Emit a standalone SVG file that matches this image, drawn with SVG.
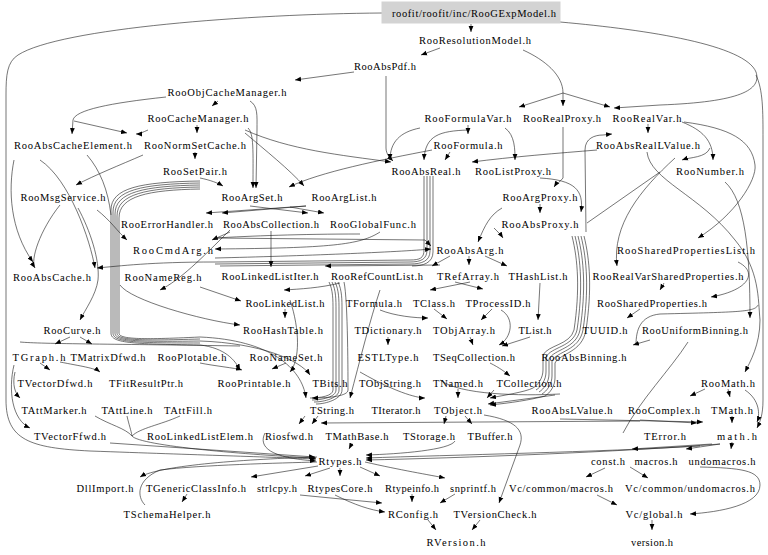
<svg xmlns="http://www.w3.org/2000/svg" width="768" height="555" viewBox="0 0 768 555">
<style>
.n text{font-family:"Liberation Serif","DejaVu Serif","Times New Roman",serif;font-size:10.5px;fill:#000;text-anchor:middle}
.e path{fill:none;stroke:#1a1a1a;stroke-width:0.6}
.e path.a{marker-end:url(#ah)}
</style>
<defs>
<marker id="ah" viewBox="0 0 10 10" refX="10" refY="5" markerWidth="6" markerHeight="6" markerUnits="userSpaceOnUse" orient="auto"><path d="M0,1 L10,5 L0,9 z" fill="#000"/></marker>
</defs>
<rect width="768" height="555" fill="#fff"/>
<g class="e" id="edges">
<path class="a" d="M471,24 L471,32"/>
<path class="a" d="M382,13 C250,14 60,28 18,55 C7,62 6,75 6,95 L6,400 C6,440 30,448 90,451 C200,455 270,457 316,459"/>
<path class="a" d="M560,22 C650,30 745,45 756,72 C762,90 740,102 660,105 L614,108"/>
<path class="a" d="M756,75 C763,90 763,110 763,140 L763,400 C763,415 760,422 757,428"/>
<path class="a" d="M440,48 L421,55"/>
<path d="M523,50 C545,60 563,75 563,93"/>
<path class="a" d="M563,93 L519,107"/>
<path class="a" d="M563,93 L563,106"/>
<path class="a" d="M563,93 L610,107"/>
<path class="a" d="M354,72 L295,80"/>
<path class="a" d="M386,76 L386,148 C386,154 390,158 393,161"/>
<path class="a" d="M218,101 L212,106"/>
<path class="a" d="M166,97 C110,103 75,110 73,120 L72,134"/>
<path class="a" d="M250,101 C258,106 257,115 257,130 L256,188"/>
<path class="a" d="M197,125 L197,133"/>
<path class="a" d="M74,121 L127,133"/>
<path class="a" d="M148,130 C143,132 140,134 136,134"/>
<path class="a" d="M195,152 L195,159"/>
<path class="a" d="M248,128 C254,134 253,150 253,188"/>
<path class="a" d="M245,130 C290,150 340,155 391,162"/>
<path class="a" d="M245,133 C265,150 290,170 304,186"/>
<path class="a" d="M200,178 C210,180 218,183 223,186"/>
<path class="a" d="M468,125 L468,134"/>
<path class="a" d="M420,128 C400,132 390,142 390,160"/>
<path class="a" d="M505,128 C515,135 515,150 515,160"/>
<path class="a" d="M468,130 C440,131 425,135 424,160"/>
<path class="a" d="M450,152 L445,160"/>
<path class="a" d="M432,150 C380,160 320,172 289,187"/>
<path class="a" d="M597,150 C560,153 510,157 472,162"/>
<path class="a" d="M648,124 L648,133"/>
<path class="a" d="M682,122 C702,130 713,140 713,160"/>
<path class="a" d="M710,148 C706,158 690,157 682,160"/>
<path class="a" d="M684,122 C730,128 752,140 755,165 C757,180 735,215 698,238"/>
<path class="a" d="M675,158 C640,190 612,225 617,266"/>
<path class="a" d="M725,182 C745,200 750,250 750,318"/>
<path class="a" d="M647,152 C650,180 700,195 735,240 C760,270 758,300 760,320 C760,345 750,362 745,372"/>
<path class="a" d="M738,262 C758,272 750,290 711,297"/>
<path class="a" d="M664,283 L660,290"/>
<path class="a" d="M640,309 L627,318"/>
<path class="a" d="M650,340 L633,345"/>
<path d="M758,305 C755,312 740,312 660,314 C640,316 636,330 636,345"/>
<path d="M688,342 C670,370 640,400 623,433"/>
<path d="M587,223 L660,172"/>
<path d="M586,232 L585,150 C585,138 595,135 603,135"/>
<path class="a" d="M603,135 L612,134"/>
<path class="a" d="M563,127 L563,178 C560,182 556,184 554,187"/>
<path class="a" d="M540,178 C575,180 584,190 581,212"/>
<path class="a" d="M540,204 L540,213"/>
<path class="a" d="M502,208 C490,215 485,225 478,242"/>
<path class="a" d="M494,228 C498,232 501,235 503,238"/>
<path class="a" d="M306,206 L206,213"/>
<path class="a" d="M306,206 L222,213"/>
<path class="a" d="M250,206 L308,213"/>
<path class="a" d="M290,207 L324,213"/>
<path class="a" d="M271,231 L271,267"/>
<path class="a" d="M230,232 L212,240"/>
<path class="a" d="M215,238 L425,240 L431,246"/>
<path class="a" d="M215,258 C300,256 400,252 431,249"/>
<path class="a" d="M450,256 L432,266"/>
<path class="a" d="M469,256 L469,265"/>
<path class="a" d="M485,256 L507,266"/>
<path class="a" d="M440,265 L325,266"/>
<path class="a" d="M340,283 C320,288 300,289 284,290"/>
<path class="a" d="M285,309 L285,318"/>
<path class="a" d="M200,287 L241,301"/>
<path class="a" d="M120,285 C130,300 200,320 240,325"/>
<path class="a" d="M455,282 L483,289"/>
<path class="a" d="M470,282 L430,290"/>
<path class="a" d="M540,283 L538,320"/>
<path class="a" d="M434,309 L447,319"/>
<path class="a" d="M492,309 L481,320"/>
<path class="a" d="M380,310 C395,316 415,318 428,318"/>
<path class="a" d="M388,337 L388,345"/>
<path class="a" d="M470,337 L473,345"/>
<path class="a" d="M530,337 L502,346"/>
<path class="a" d="M501,310 C515,318 512,338 499,345"/>
<path class="a" d="M490,363 C500,368 505,372 510,376"/>
<path class="a" d="M458,389 L458,398"/>
<path class="a" d="M494,390 L487,398"/>
<path class="a" d="M555,395 L488,404"/>
<path class="a" d="M484,415 C515,420 525,430 520,445 L499,503"/>
<path class="a" d="M446,416 L444,424"/>
<path class="a" d="M465,416 L472,424"/>
<path class="a" d="M305,416 L299,424"/>
<path class="a" d="M318,416 L312,424"/>
<path class="a" d="M640,421 L321,423"/>
<path class="a" d="M640,420 L697,423"/>
<path class="a" d="M560,419 L703,422"/>
<path class="a" d="M352,443 L349,449"/>
<path class="a" d="M700,446 C600,452 450,455 366,458"/>
<path class="a" d="M720,444 C620,452 460,458 366,460"/>
<path class="a" d="M455,441 C450,450 400,454 366,455"/>
<path class="a" d="M265,433 C258,447 270,458 316,461"/>
<path class="a" d="M110,443 L315,457"/>
<path d="M95,416 C110,425 125,428 132,436"/>
<path d="M127,416 C129,425 131,430 132,436"/>
<path d="M180,416 C160,425 140,428 132,436"/>
<path class="a" d="M132,436 C140,446 250,455 316,458"/>
<path class="a" d="M14,365 C8,390 12,420 30,428"/>
<path class="a" d="M40,363 L50,370"/>
<path class="a" d="M15,372 C12,385 15,393 20,398"/>
<path class="a" d="M60,362 C80,366 95,368 100,372"/>
<path class="a" d="M70,337 L55,344"/>
<path class="a" d="M80,337 L92,344"/>
<path d="M20,342 C40,344 120,344 240,346"/>
<path class="a" d="M200,363 C215,366 235,368 242,370"/>
<path class="a" d="M286,363 L272,369"/>
<path class="a" d="M705,389 L690,396"/>
<path class="a" d="M728,389 L730,397"/>
<path class="a" d="M745,390 C760,400 760,415 757,422"/>
<path class="a" d="M732,416 L732,423"/>
<path class="a" d="M712,444 L632,449"/>
<path class="a" d="M720,444 L686,449"/>
<path class="a" d="M732,442 L731,449"/>
<path class="a" d="M605,468 L586,477"/>
<path class="a" d="M630,467 L648,478"/>
<path class="a" d="M700,467 C740,468 760,470 760,485 C760,505 720,512 690,514"/>
<path class="a" d="M597,495 L617,505"/>
<path class="a" d="M652,520 L652,530"/>
<path class="a" d="M317,457 C250,459 160,465 140,477"/>
<path class="a" d="M318,466 L251,477"/>
<path class="a" d="M330,468 L305,476"/>
<path class="a" d="M340,468 L340,476"/>
<path class="a" d="M360,467 L380,476"/>
<path class="a" d="M365,462 C400,470 430,475 445,478"/>
<path class="a" d="M187,494 L182,502"/>
<path d="M145,505 C137,497 136,480 160,470 C200,465 280,463 317,462"/>
<path class="a" d="M300,495 L382,503"/>
<path class="a" d="M335,495 C355,505 370,510 385,512"/>
<path class="a" d="M412,494 L412,502"/>
<path class="a" d="M455,494 L440,503"/>
<path class="a" d="M428,520 L436,530"/>
<path class="a" d="M480,520 L472,530"/>
<path d="M200,181 C140,182 111,188 111,210 L111,333 C111,343 130,344 200,345"/>
<path d="M200,183 C142,184 113,190 113,212 L113,333 C113,342 132,343 200,343"/>
<path d="M200,185 C144,186 115,192 115,214 L115,333 C115,341 134,342 200,341"/>
<path d="M200,187 C146,188 117,194 117,216 L117,333 C117,340 136,341 200,339"/>
<path d="M200,189 C148,190 119,196 119,218 L119,333 C119,339 138,340 200,337"/>
<path class="a" d="M200,345 C225,348 235,360 240,370"/>
<path class="a" d="M200,341 C260,343 300,360 310,375"/>
<path class="a" d="M200,337 C270,340 302,368 306,398"/>
<path d="M87,155 C100,170 108,190 111,215"/>
<path class="a" d="M143,155 C120,165 95,175 76,185"/>
<path class="a" d="M14,160 C8,190 10,230 33,262"/>
<path class="a" d="M78,208 C90,230 100,260 98,280 C96,295 85,310 80,320"/>
<path class="a" d="M97,210 C110,220 118,232 127,240"/>
<path d="M424,176 L424,250 C424,258 420,260 410,260 L215,262"/>
<path d="M427,176 L427,250 C427,259 421,262 410,262 L215,264"/>
<path d="M430,176 L430,251 C430,261 422,264 410,264 L220,266"/>
<path d="M433,176 L433,252 C433,263 423,266 412,266"/>
<path class="a" d="M215,262 C150,262 120,266 97,268"/>
<path class="a" d="M380,232 C360,245 330,248 215,249"/>
<path d="M329,282 C333,290 333,300 333,310 L333,390 C333,396 320,398 310,398"/>
<path d="M332,282 C336,290 336,300 336,310 L336,390 C336,397 322,400 312,400"/>
<path d="M335,282 C339,290 339,300 339,310 L339,390 C339,398 324,402 314,402"/>
<path d="M338,282 C342,290 342,300 342,310 L342,390 C342,399 326,404 316,404"/>
<path class="a" d="M344,282 C348,300 348,380 348,390 C348,396 330,398 312,398"/>
<path d="M572,236 C578,260 580,290 574,330 C570,345 548,345 543,355 L543,370 C543,378 538,385 533,388"/>
<path d="M575,236 C581,260 583,290 577,330 C573,347 551,347 546,357 L546,372 C546,380 541,387 536,390"/>
<path d="M578,236 C584,260 586,290 580,330 C576,349 554,349 549,359 L549,374 C549,382 544,389 539,392"/>
<path d="M581,236 C587,260 589,290 583,330 C579,351 557,351 552,361 L552,376 C552,384 547,391 542,394"/>
<path d="M584,236 C590,260 592,290 586,330 C582,353 560,353 555,363 L555,378 C555,386 550,393 545,396"/>
<path class="a" d="M533,388 C525,392 505,395 490,398"/>
<path class="a" d="M545,396 C530,400 510,403 490,405"/>
<path d="M440,380 C460,395 520,396 560,394"/>
<path d="M215,238 C250,236 300,234 360,234"/>
<path class="a" d="M290,300 C300,330 300,360 290,372"/>
<path class="a" d="M380,290 C370,320 360,360 350,398"/>
<path class="a" d="M360,372 C400,395 420,398 425,398"/>
<path class="a" d="M40,160 C70,180 90,240 95,268"/>
<path class="a" d="M60,205 C40,230 30,260 35,268"/>
<path class="a" d="M230,230 C200,260 180,280 160,290"/>
</g>
<g class="n">
<g id="n0"><rect x="382" y="2" width="178" height="21" fill="#d3d3d3" stroke="#d3d3d3"/><text x="474" y="16.5" textLength="164" lengthAdjust="spacing">roofit/roofit/inc/RooGExpModel.h</text></g>
<g id="n1"><text x="475" y="43.5" textLength="112" lengthAdjust="spacing">RooResolutionModel.h</text></g>
<g id="n2"><text x="385" y="69.5" textLength="62" lengthAdjust="spacing">RooAbsPdf.h</text></g>
<g id="n3"><text x="227" y="95.5" textLength="119" lengthAdjust="spacing">RooObjCacheManager.h</text></g>
<g id="n4"><text x="198" y="121.5" textLength="101" lengthAdjust="spacing">RooCacheManager.h</text></g>
<g id="n5"><text x="468" y="121.5" textLength="87" lengthAdjust="spacing">RooFormulaVar.h</text></g>
<g id="n6"><text x="562" y="121.5" textLength="78" lengthAdjust="spacing">RooRealProxy.h</text></g>
<g id="n7"><text x="647" y="121.5" textLength="69" lengthAdjust="spacing">RooRealVar.h</text></g>
<g id="n8"><text x="73" y="148.5" textLength="118" lengthAdjust="spacing">RooAbsCacheElement.h</text></g>
<g id="n9"><text x="195" y="148.5" textLength="102" lengthAdjust="spacing">RooNormSetCache.h</text></g>
<g id="n10"><text x="468" y="148.5" textLength="69" lengthAdjust="spacing">RooFormula.h</text></g>
<g id="n11"><text x="648" y="148.5" textLength="104" lengthAdjust="spacing">RooAbsRealLValue.h</text></g>
<g id="n12"><text x="195" y="174.5" textLength="64" lengthAdjust="spacing">RooSetPair.h</text></g>
<g id="n13"><text x="426" y="174.5" textLength="69" lengthAdjust="spacing">RooAbsReal.h</text></g>
<g id="n14"><text x="513" y="174.5" textLength="76" lengthAdjust="spacing">RooListProxy.h</text></g>
<g id="n15"><text x="710" y="174.5" textLength="68" lengthAdjust="spacing">RooNumber.h</text></g>
<g id="n16"><text x="63" y="200.5" textLength="85" lengthAdjust="spacing">RooMsgService.h</text></g>
<g id="n17"><text x="252" y="200.5" textLength="61" lengthAdjust="spacing">RooArgSet.h</text></g>
<g id="n18"><text x="344" y="200.5" textLength="65" lengthAdjust="spacing">RooArgList.h</text></g>
<g id="n19"><text x="540" y="200.5" textLength="75" lengthAdjust="spacing">RooArgProxy.h</text></g>
<g id="n20"><text x="167" y="227.5" textLength="92" lengthAdjust="spacing">RooErrorHandler.h</text></g>
<g id="n21"><text x="271" y="227.5" textLength="96" lengthAdjust="spacing">RooAbsCollection.h</text></g>
<g id="n22"><text x="373" y="227.5" textLength="86" lengthAdjust="spacing">RooGlobalFunc.h</text></g>
<g id="n23"><text x="540" y="227.5" textLength="77" lengthAdjust="spacing">RooAbsProxy.h</text></g>
<g id="n24"><text x="173" y="253.5" textLength="80" lengthAdjust="spacing">RooCmdArg.h</text></g>
<g id="n25"><text x="470" y="253.5" textLength="67" lengthAdjust="spacing">RooAbsArg.h</text></g>
<g id="n26"><text x="686" y="253.5" textLength="138" lengthAdjust="spacing">RooSharedPropertiesList.h</text></g>
<g id="n27"><text x="52" y="280.5" textLength="78" lengthAdjust="spacing">RooAbsCache.h</text></g>
<g id="n28"><text x="163" y="280.5" textLength="77" lengthAdjust="spacing">RooNameReg.h</text></g>
<g id="n29"><text x="270" y="279.5" textLength="97" lengthAdjust="spacing">RooLinkedListIter.h</text></g>
<g id="n30"><text x="377" y="279.5" textLength="92" lengthAdjust="spacing">RooRefCountList.h</text></g>
<g id="n31"><text x="468" y="279.5" textLength="62" lengthAdjust="spacing">TRefArray.h</text></g>
<g id="n32"><text x="538" y="279.5" textLength="59" lengthAdjust="spacing">THashList.h</text></g>
<g id="n33"><text x="668" y="279.5" textLength="151" lengthAdjust="spacing">RooRealVarSharedProperties.h</text></g>
<g id="n34"><text x="285" y="306.5" textLength="79" lengthAdjust="spacing">RooLinkedList.h</text></g>
<g id="n35"><text x="374" y="306.5" textLength="56" lengthAdjust="spacing">TFormula.h</text></g>
<g id="n36"><text x="434" y="306.5" textLength="42" lengthAdjust="spacing">TClass.h</text></g>
<g id="n37"><text x="498" y="306.5" textLength="65" lengthAdjust="spacing">TProcessID.h</text></g>
<g id="n38"><text x="652" y="306.5" textLength="110" lengthAdjust="spacing">RooSharedProperties.h</text></g>
<g id="n39"><text x="72" y="333.5" textLength="57" lengthAdjust="spacing">RooCurve.h</text></g>
<g id="n40"><text x="283" y="333.5" textLength="80" lengthAdjust="spacing">RooHashTable.h</text></g>
<g id="n41"><text x="388" y="333.5" textLength="67" lengthAdjust="spacing">TDictionary.h</text></g>
<g id="n42"><text x="464" y="333.5" textLength="62" lengthAdjust="spacing">TObjArray.h</text></g>
<g id="n43"><text x="535" y="333.5" textLength="33" lengthAdjust="spacing">TList.h</text></g>
<g id="n44"><text x="605" y="333.5" textLength="45" lengthAdjust="spacing">TUUID.h</text></g>
<g id="n45"><text x="695" y="333.5" textLength="106" lengthAdjust="spacing">RooUniformBinning.h</text></g>
<g id="n46"><text x="39" y="360.5" textLength="53" lengthAdjust="spacing">TGraph.h</text></g>
<g id="n47"><text x="108" y="360.5" textLength="75" lengthAdjust="spacing">TMatrixDfwd.h</text></g>
<g id="n48"><text x="192" y="360.5" textLength="69" lengthAdjust="spacing">RooPlotable.h</text></g>
<g id="n49"><text x="286" y="360.5" textLength="73" lengthAdjust="spacing">RooNameSet.h</text></g>
<g id="n50"><text x="388" y="360.5" textLength="61" lengthAdjust="spacing">ESTLType.h</text></g>
<g id="n51"><text x="474" y="360.5" textLength="82" lengthAdjust="spacing">TSeqCollection.h</text></g>
<g id="n52"><text x="584" y="360.5" textLength="85" lengthAdjust="spacing">RooAbsBinning.h</text></g>
<g id="n53"><text x="55" y="386.5" textLength="75" lengthAdjust="spacing">TVectorDfwd.h</text></g>
<g id="n54"><text x="146" y="386.5" textLength="74" lengthAdjust="spacing">TFitResultPtr.h</text></g>
<g id="n55"><text x="254" y="386.5" textLength="73" lengthAdjust="spacing">RooPrintable.h</text></g>
<g id="n56"><text x="330" y="386.5" textLength="35" lengthAdjust="spacing">TBits.h</text></g>
<g id="n57"><text x="390" y="386.5" textLength="62" lengthAdjust="spacing">TObjString.h</text></g>
<g id="n58"><text x="458" y="386.5" textLength="50" lengthAdjust="spacing">TNamed.h</text></g>
<g id="n59"><text x="529" y="386.5" textLength="65" lengthAdjust="spacing">TCollection.h</text></g>
<g id="n60"><text x="728" y="386.5" textLength="54" lengthAdjust="spacing">RooMath.h</text></g>
<g id="n61"><text x="54" y="413.5" textLength="65" lengthAdjust="spacing">TAttMarker.h</text></g>
<g id="n62"><text x="127" y="413.5" textLength="51" lengthAdjust="spacing">TAttLine.h</text></g>
<g id="n63"><text x="188" y="413.5" textLength="48" lengthAdjust="spacing">TAttFill.h</text></g>
<g id="n64"><text x="332" y="413.5" textLength="44" lengthAdjust="spacing">TString.h</text></g>
<g id="n65"><text x="396" y="413.5" textLength="49" lengthAdjust="spacing">TIterator.h</text></g>
<g id="n66"><text x="458" y="413.5" textLength="48" lengthAdjust="spacing">TObject.h</text></g>
<g id="n67"><text x="572" y="413.5" textLength="81" lengthAdjust="spacing">RooAbsLValue.h</text></g>
<g id="n68"><text x="664" y="413.5" textLength="72" lengthAdjust="spacing">RooComplex.h</text></g>
<g id="n69"><text x="732" y="413.5" textLength="42" lengthAdjust="spacing">TMath.h</text></g>
<g id="n70"><text x="70" y="439.5" textLength="72" lengthAdjust="spacing">TVectorFfwd.h</text></g>
<g id="n71"><text x="200" y="439.5" textLength="106" lengthAdjust="spacing">RooLinkedListElem.h</text></g>
<g id="n72"><text x="289" y="439.5" textLength="48" lengthAdjust="spacing">Riosfwd.h</text></g>
<g id="n73"><text x="357" y="439.5" textLength="63" lengthAdjust="spacing">TMathBase.h</text></g>
<g id="n74"><text x="429" y="439.5" textLength="52" lengthAdjust="spacing">TStorage.h</text></g>
<g id="n75"><text x="490" y="439.5" textLength="45" lengthAdjust="spacing">TBuffer.h</text></g>
<g id="n76"><text x="665" y="439.5" textLength="42" lengthAdjust="spacing">TError.h</text></g>
<g id="n77"><text x="737" y="439.5" textLength="40" lengthAdjust="spacing">math.h</text></g>
<g id="n78"><text x="340" y="464.5" textLength="43" lengthAdjust="spacing">Rtypes.h</text></g>
<g id="n79"><text x="608" y="464.5" textLength="34" lengthAdjust="spacing">const.h</text></g>
<g id="n80"><text x="656" y="464.5" textLength="43" lengthAdjust="spacing">macros.h</text></g>
<g id="n81"><text x="722" y="464.5" textLength="67" lengthAdjust="spacing">undomacros.h</text></g>
<g id="n82"><text x="105" y="491.5" textLength="57" lengthAdjust="spacing">DllImport.h</text></g>
<g id="n83"><text x="196" y="491.5" textLength="100" lengthAdjust="spacing">TGenericClassInfo.h</text></g>
<g id="n84"><text x="277" y="491.5" textLength="40" lengthAdjust="spacing">strlcpy.h</text></g>
<g id="n85"><text x="340" y="491.5" textLength="65" lengthAdjust="spacing">RtypesCore.h</text></g>
<g id="n86"><text x="412" y="491.5" textLength="54" lengthAdjust="spacing">Rtypeinfo.h</text></g>
<g id="n87"><text x="473" y="491.5" textLength="46" lengthAdjust="spacing">snprintf.h</text></g>
<g id="n88"><text x="561" y="491.5" textLength="104" lengthAdjust="spacing">Vc/common/macros.h</text></g>
<g id="n89"><text x="690" y="491.5" textLength="130" lengthAdjust="spacing">Vc/common/undomacros.h</text></g>
<g id="n90"><text x="167" y="517.5" textLength="87" lengthAdjust="spacing">TSchemaHelper.h</text></g>
<g id="n91"><text x="413" y="517.5" textLength="50" lengthAdjust="spacing">RConfig.h</text></g>
<g id="n92"><text x="495" y="517.5" textLength="83" lengthAdjust="spacing">TVersionCheck.h</text></g>
<g id="n93"><text x="654" y="517.5" textLength="57" lengthAdjust="spacing">Vc/global.h</text></g>
<g id="n94"><text x="456" y="545.5" textLength="59" lengthAdjust="spacing">RVersion.h</text></g>
<g id="n95"><text x="652" y="545.5" textLength="42" lengthAdjust="spacing">version.h</text></g>
</g>
</svg>
